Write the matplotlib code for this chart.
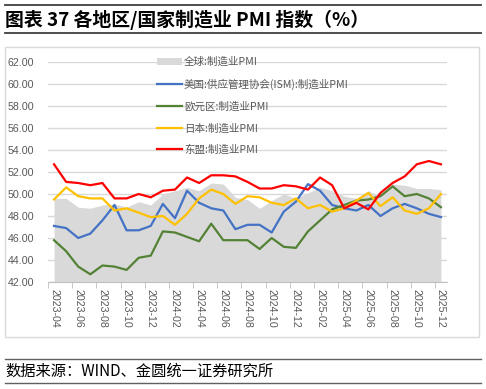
import matplotlib as mpl
mpl.use('Agg')
from matplotlib import pyplot as plt
from matplotlib.lines import Line2D
from matplotlib.patches import Rectangle, Patch
import numpy as np
import pandas as pd

plt.rcParams['font.family'] = ['Noto Sans CJK SC', 'DejaVu Sans']

months = [str(p) for p in pd.period_range('2023-04', '2025-12', freq='M')]

# PMI values
pmi_global = [49.6, 49.6, 48.8, 48.7, 49.0, 49.1, 48.8, 49.3, 49.0, 50.0, 50.3, 50.6,
              50.3, 51.0, 50.9, 49.7, 49.5, 48.7, 49.4, 50.0, 49.6, 50.1, 50.6, 50.3,
              49.8, 49.6, 50.3, 49.7, 50.9, 50.8, 50.5, 50.5, 50.4]
pmi_us = [47.1, 46.9, 46.0, 46.4, 47.6, 49.0, 46.7, 46.7, 47.1, 49.1, 47.8, 50.3,
          49.2, 48.7, 48.5, 46.8, 47.2, 47.2, 46.5, 48.4, 49.3, 50.9, 50.3, 49.0,
          48.7, 48.5, 49.0, 48.0, 48.7, 49.1, 48.7, 48.2, 47.9]
pmi_euro = [45.8, 44.8, 43.4, 42.7, 43.5, 43.4, 43.1, 44.2, 44.4, 46.6, 46.5, 46.1,
            45.7, 47.3, 45.8, 45.8, 45.8, 45.0, 46.0, 45.2, 45.1, 46.6, 47.6, 48.6,
            49.0, 49.4, 49.5, 49.8, 50.7, 49.8, 50.0, 49.6, 48.8]
pmi_japan = [49.5, 50.6, 49.8, 49.6, 49.6, 48.5, 48.7, 48.3, 47.9, 48.0, 47.2, 48.2,
             49.6, 50.4, 50.0, 49.1, 49.8, 49.7, 49.2, 49.0, 49.6, 48.7, 49.0, 48.4,
             48.7, 49.4, 50.1, 48.9, 49.7, 48.5, 48.2, 48.7, 50.0]
pmi_asean = [52.7, 51.1, 51.0, 50.8, 51.0, 49.6, 49.6, 50.0, 49.7, 50.3, 50.4, 51.5,
             51.0, 51.7, 51.7, 51.6, 51.1, 50.5, 50.5, 50.8, 50.7, 50.4, 51.5, 50.8,
             48.7, 49.2, 48.6, 50.1, 51.0, 51.6, 52.7, 53.0, 52.7]

labels = ['全球:制造业PMI', '美国:供应管理协会(ISM):制造业PMI', '欧元区:制造业PMI',
          '日本:制造业PMI', '东盟:制造业PMI']
y_ticks = [42, 44, 46, 48, 50, 52, 54, 56, 58, 60, 62]

W, H = 486, 389


def px(x, y):
    return x / W, 1 - y / H


fig = plt.figure(figsize=(W / 100, H / 100), dpi=100)

# Title with rules above and below
for y in [5, 33]:
    fig.add_artist(Line2D([5 / W, 481 / W], [1 - y / H] * 2, color='#404040', lw=1.3))
fig.text(*px(5, 19.5), '图表 37 各地区/国家制造业 PMI 指数（%）', fontsize=13.6,
         fontweight='bold', ha='left', va='center', color='black')

# Chart frame
fig.add_artist(Rectangle(px(5, 337), 474 / W, 290 / H, transform=fig.transFigure,
                         fill=False, edgecolor='#d9d9d9', lw=1))

# Source note
for y in [359, 383]:
    fig.add_artist(Line2D([5 / W, 481 / W], [1 - y / H] * 2, color='#606060', lw=1))
fig.text(*px(5, 371), '数据来源：WIND、金圆统一证券研究所', fontsize=11,
         ha='left', va='center', color='black')

ax = fig.add_axes([48 / W, 1 - 282 / H, 399 / W, 220 / H])
x = np.arange(len(months))

ax.fill_between(x, 42, pmi_global, color='#d9d9d9', lw=0, zorder=2)
ax.plot(x, pmi_us, color='#4472C4', lw=1.6, zorder=3)
ax.plot(x, pmi_euro, color='#548235', lw=1.6, zorder=3)
ax.plot(x, pmi_japan, color='#FFC000', lw=1.6, zorder=3)
ax.plot(x, pmi_asean, color='#FF0000', lw=1.6, zorder=4)

ax.set_xlim(-0.5, len(months) - 0.5)
ax.set_ylim(42, 62)
ax.set_yticks(y_ticks)
ax.set_yticklabels(['{:.2f}'.format(v) for v in y_ticks])
ax.grid(axis='y', color='#d9d9d9', lw=1, zorder=0)
ax.set_axisbelow(True)

ax.set_xticks(x[::2])
ax.set_xticklabels(months[::2], rotation=270)
ax.set_xticks(np.arange(-0.5, len(months), 2), minor=True)
ax.tick_params(axis='x', which='major', length=0, pad=5, labelsize=7.7,
               labelcolor='#595959')
ax.tick_params(axis='x', which='minor', length=4, color='#bfbfbf')
ax.tick_params(axis='y', length=0, pad=10, labelsize=7.7, labelcolor='#595959')
for lab in ax.get_xticklabels() + ax.get_yticklabels():
    lab.set_family('Liberation Sans')

for side in ['top', 'right', 'left']:
    ax.spines[side].set_visible(False)
ax.spines['bottom'].set_color('#bfbfbf')

handles = [Patch(facecolor='#d9d9d9', edgecolor='none'),
           Line2D([], [], color='#4472C4', lw=1.6),
           Line2D([], [], color='#548235', lw=1.6),
           Line2D([], [], color='#FFC000', lw=1.6),
           Line2D([], [], color='#FF0000', lw=1.6)]
leg = ax.legend(handles, labels, loc='upper left', bbox_to_anchor=px(157, 57),
                bbox_transform=fig.transFigure, frameon=False, fontsize=7.6,
                handlelength=2.4, handletextpad=0.15, labelspacing=1.08,
                borderpad=0, borderaxespad=0)
for t in leg.get_texts():
    t.set_color('#595959')

fig.savefig('out.png', dpi=100)
